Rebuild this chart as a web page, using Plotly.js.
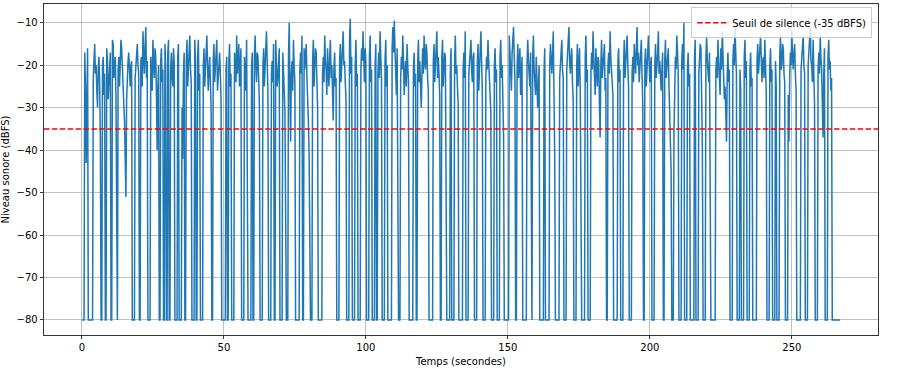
<!DOCTYPE html>
<html>
<head>
<meta charset="utf-8">
<script src="https://cdn.plot.ly/plotly-3.0.1.min.js"></script>
<style>html,body{margin:0;padding:0;background:#fff;}#chart{width:916px;height:369px;}</style>
</head>
<body>
<div id="chart"></div>
<script>
// Sampling of the level series (seconds)
const timeStart = 0;
const timeStep = 0.25;
const S = -80; // silence floor (dBFS)
// Sound level (dBFS), one value every 0.25 s from t = 0 to t = 267 s (20 values = 5 s per row)
const levels = [
  S,S,S,S,-17,-25,-43,-30,-16,S,S,S,S,S,S,S,-23,-19,-15,-22,
  -20,-26,-30,-21,-18,-24,-38,S,S,-20,-18,-27,-22,S,S,-16,-19,-28,-25,-19,
  -17,S,S,-14,-15,-23,-21,-18,-28,S,S,-21,-18,-25,-20,-14,-16,-22,-24,-29,
  -33,-45,-51,-28,-22,-19,-17,-24,-25,-20,-19,S,S,S,S,-23,-20,-17,-15,-20,
  -22,S,S,-19,-18,-25,-12,-17,-22,-16,-11,-23,-19,S,S,S,S,-18,-21,-26,
  -14,-19,-23,-16,-18,-27,-40,-25,-20,S,S,-19,-16,-24,-21,S,S,-15,-20,S,
  S,-17,-14,S,S,-21,-17,-23,-25,-16,-19,S,S,S,S,-18,-15,S,S,S,
  S,-30,-42,-22,-17,S,S,-19,-14,-25,-20,-16,-13,-21,-24,S,S,S,S,-14,
  -19,S,S,-18,-14,-26,-22,S,S,S,S,-20,-16,-25,-21,-15,-13,-20,-26,-21,
  -18,-24,-30,S,S,-19,-15,-24,-20,-17,-14,-26,-23,-19,-17,-22,-28,S,S,S,
  S,S,S,-21,-18,S,S,-19,-15,-25,-22,S,S,S,S,-17,-20,-24,-13,-22,
  -19,-15,-25,-19,-16,S,S,S,S,-18,-21,-26,-14,S,S,S,S,S,S,-20,
  -17,S,S,-18,-13,-20,-24,-17,-18,-23,-29,S,S,S,S,-20,-16,-25,-22,-16,
  -12,-20,-26,S,S,S,S,-22,-19,-24,-15,S,S,-14,-18,-25,-23,-19,-16,S,
  S,S,S,-17,-20,-26,-31,S,S,S,S,-18,-10,-25,-38,-22,-19,-26,-14,-20,
  -24,S,S,S,S,S,S,-21,-17,-22,-13,S,S,-16,-21,-18,-15,-23,-27,-33,
  -40,S,S,S,S,-19,-14,-25,-22,-16,-17,-24,-30,S,S,S,S,S,S,-22,
  -18,-24,-13,-19,-21,-27,-16,-22,-25,-18,-14,-23,-20,-26,-33,-21,-17,-25,-23,S,
  S,S,S,-19,-15,-24,-21,-16,-12,-20,-19,-24,-28,S,S,S,S,-14,-9,-22,
  -18,S,S,S,S,-20,-14,-25,-22,S,S,S,S,-21,-16,-19,-12,-18,-24,-16,
  -19,S,S,S,S,-18,-13,-24,-21,S,S,S,S,-20,-15,S,S,-22,-17,-23,
  -12,-18,-23,S,S,S,S,-19,-14,-25,-20,S,S,S,S,S,S,-16,-11,-17,
  -9.5,-16,-22,-27,-16,S,S,S,S,-23,-18,-21,-13,-19,-27,-22,-19,-25,-15,-20,
  -24,S,S,S,S,S,S,-21,-17,-25,-22,S,S,-19,-14,-24,-19,-25,-30,-22,
  -16,-22,-13,-19,-21,-15,-17,-23,-26,S,S,S,S,S,S,-19,-15,-24,-20,-16,
  -12,-23,-18,-22,-27,S,S,-18,-14,-25,-22,-17,-18,S,S,S,S,S,S,-21,
  -16,S,S,S,S,-19,-13,-22,-20,-25,-29,S,S,S,S,S,S,-21,-17,-23,
  -12,S,S,S,S,-22,-19,-16,-14,-21,-24,-18,-17,S,S,S,S,-19,-15,-26,
  -21,-17,-12,-19,-26,S,S,S,S,-23,-18,-21,-14,-19,-22,-27,-31,S,S,S,
  S,-20,-16,-24,-21,S,S,S,S,-18,-14,-23,-20,-28,-37,S,S,S,S,S,
  S,S,-13,-19,-22,-26,-17,-14,-11,-18,-24,S,S,-21,-15,-23,-20,-16,-27,-22,
  -18,S,S,S,S,S,S,-20,-14,-19,-21,-25,-17,S,S,-18,-13,-21,-23,-27,
  -18,-24,-30,-25,-20,S,S,S,S,S,S,-21,-16,S,S,S,S,S,S,-20,
  -15,-19,-22,-17,-12,-27,-41,S,S,S,S,S,S,-23,-19,-16,-14,-21,-23,S,
  S,S,S,-21,-17,-14,-11,-19,-22,-18,-16,-24,-28,S,S,S,S,-20,-15,-25,
  -20,-16,-26,S,S,S,S,S,S,-18,-13,-24,-21,S,S,S,S,-22,-17,-21,
  -12,-18,-22,-27,-16,-21,-25,-18,-19,-29,-37,-20,-14,-23,-20,-17,-15,-26,-23,S,
  S,-20,-17,-22,-12,-18,-21,-24,-27,S,S,S,S,S,S,-19,-16,-24,-21,S,
  S,S,S,-20,-14,-23,-19,-16,-13,-20,-25,S,S,S,S,-22,-18,-24,-15,-19,
  -22,-16,-11,-20,-17,-24,-21,-18,-14,-22,-29,S,S,-19,-16,-25,-20,-17,-13,-19,
  -24,-20,-18,S,S,S,S,-20,-15,-23,-21,-17,-12,-22,-19,-24,-26,-21,-17,S,
  S,-19,-14,-23,-20,-17,-16,-25,-33,-40,-45,S,S,S,-36,-24,-18,-21,-13,-17,
  -22,S,S,S,S,-19,-15,-21,-10,S,S,S,S,-21,-17,-25,-22,S,S,S,
  S,S,S,-18,-14,S,S,S,S,-22,-19,-15,-16,-27,-39,S,S,S,S,-18,
  -13,-19,-21,-24,-17,S,S,S,S,S,S,S,S,-21,-18,-23,-14,-19,-22,-27,
  -16,-21,-12,-18,-20,-28,-25,-31,-38,-22,-17,-24,-21,S,S,S,S,-19,-15,-20,
  -11,-17,-22,S,S,S,S,-21,-26,S,S,S,S,-18,-14,-23,-19,S,S,S,
  S,-21,-17,-25,-23,S,S,S,S,S,S,-19,-15,-22,-20,-16,-13,-21,-24,-19,
  -18,-23,-14,-20,-27,S,S,S,S,-20,-16,-24,-21,S,S,S,S,-19,-25,S,
  S,S,S,-18,-13,-21,-20,-15,-16,-22,-24,S,S,S,S,-27,-38,-23,-17,-20,
  -12,-18,-21,-17,-15,-22,-26,S,S,S,S,S,S,-21,-18,-16,-13,-20,-22,S,
  S,S,S,-20,-16,-13,-11,-19,-20,-24,-14,-22,-29,S,S,S,S,-21,-17,-22,
  -13,-18,-21,-29,-37,-22,-16,S,S,S,S,-18,-14,-21,-19,-26,-23,S,S,S,
  S,S,S,S,S,S,S,S,S
];
const threshold = -35;
const thresholdLabel = 'Seuil de silence (-35 dBFS)';
const xRange = [-13.35, 280.35];
const yRange = [-83.55, -5.55];

const font = {family: 'DejaVu Sans, sans-serif', size: 10, color: '#000'};

const traces = [
  {
    type: 'scatter', mode: 'lines',
    x0: timeStart, dx: timeStep, y: levels,
    line: {color: '#1f77b4', width: 1.5},
    showlegend: false, hoverinfo: 'skip'
  },
  {
    type: 'scatter', mode: 'lines',
    x: xRange, y: [threshold, threshold],
    name: thresholdLabel,
    line: {color: 'red', width: 1.5, dash: '5.5px,2.4px'},
    hoverinfo: 'skip'
  }
];

const axisCommon = {
  showline: true, linecolor: '#000', linewidth: 0.8, mirror: true,
  ticks: 'outside', ticklen: 3.5, tickwidth: 0.8, tickcolor: '#000',
  showgrid: true, gridcolor: '#b0b0b0', gridwidth: 0.8,
  zeroline: false, tickfont: font, automargin: false
};

const layout = {
  width: 916, height: 369,
  margin: {l: 43.5, r: 38.3, t: 3.5, b: 34},
  paper_bgcolor: '#fff', plot_bgcolor: '#fff',
  font: font,
  xaxis: Object.assign({}, axisCommon, {
    range: xRange, dtick: 50, tick0: 0,
    title: {text: 'Temps (secondes)', font: font, standoff: 5}
  }),
  yaxis: Object.assign({}, axisCommon, {
    range: yRange, dtick: 10, tick0: 0,
    title: {text: 'Niveau sonore (dBFS)', font: font, standoff: 6}
  }),
  legend: {
    x: 0.993, y: 0.99, xanchor: 'right', yanchor: 'top',
    bgcolor: 'rgba(255,255,255,0.8)', bordercolor: '#cccccc', borderwidth: 1,
    font: font, itemwidth: 30, tracegroupgap: 0
  },
  showlegend: true
};

Plotly.newPlot('chart', traces, layout, {displayModeBar: false, staticPlot: true});
</script>
</body>
</html>
